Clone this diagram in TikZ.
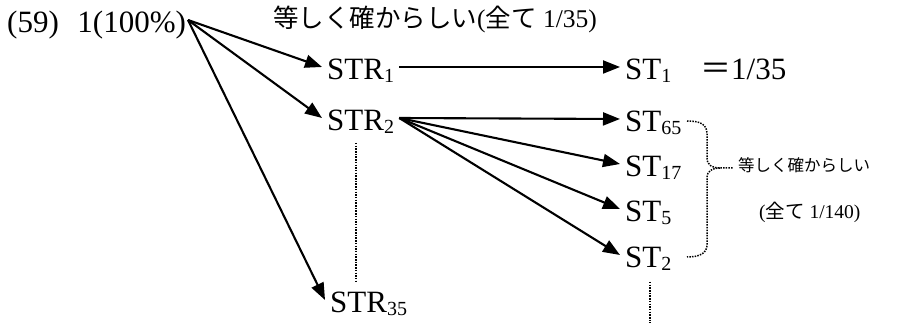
\documentclass[tikz,border=0pt]{standalone}
\usepackage{fontspec}
\setmainfont{Liberation Serif}
\newfontfamily\jp{Noto Sans CJK JP}
\usetikzlibrary{arrows.meta}
\newcommand\mysub[1]{\raisebox{-3pt}{\fontsize{20pt}{22pt}\selectfont #1}}
\tikzset{
  lbl/.style={font=\fontsize{31pt}{36pt}\selectfont, inner xsep=5pt, inner ysep=0pt,
              text height=25pt, text depth=0pt, anchor=west},
  jtxt/.style={inner sep=0pt, anchor=west, text height=0.88em, text depth=0.12em},
  arr/.style={line width=2.1pt, -{Triangle[length=17pt,width=13pt]}},
  dots/.style={line width=1.5pt, dash pattern=on 1.5pt off 1.2pt}
}
\begin{document}
\begin{tikzpicture}[x=1pt,y=-1pt]
\useasboundingbox (0,0) rectangle (903,323);
% nodes
\node[lbl, inner xsep=0pt] (srct) at (7,20.5) {(59)\hspace{0.6em}1(100\%)};
\coordinate (src) at (188,20);
\node[jtxt, font=\fontsize{25.5pt}{28pt}\selectfont] (top) at (273,24)
  {{\jp 等しく確からしい}({\jp 全て} 1/35)};
\node[lbl] (str1) at (322,67) {STR\mysub{1}};
\node[lbl] (str2) at (322,118) {STR\mysub{2}};
\node[lbl] (str35) at (325,300) {STR\mysub{35}};
\node[lbl] (st1) at (620,67) {ST\mysub{1}};
\node[lbl, inner xsep=0pt] (eq) at (700,67) {{\jp ＝}1/35};
\node[lbl] (st65) at (620,119) {ST\mysub{65}};
\node[lbl] (st17) at (620,164) {ST\mysub{17}};
\node[lbl] (st5) at (620,209) {ST\mysub{5}};
\node[lbl] (st2) at (620,255) {ST\mysub{2}};
\node[jtxt, font=\fontsize{16.5pt}{20pt}\selectfont] (eqp) at (738,168) {\jp 等しく確からしい};
\node[jtxt, font=\fontsize{19.5pt}{22pt}\selectfont] (all) at (759,215) {({\jp 全て} 1/140)};
% arrows
\draw[arr] (src) -- (str1.west);
\draw[arr] (src) -- (str2.west);
\draw[arr] (src) -- (str35.west);
\draw[arr] (str1.east) -- (st1.west);
\draw[arr] (str2.east) -- (st65.west);
\draw[arr] (str2.east) -- (st17.west);
\draw[arr] (str2.east) -- (st5.west);
\draw[arr] (str2.east) -- (st2.west);
% dotted lines
\coordinate (v1) at (356,143);
\coordinate (v2) at (356,282);
\draw[dots] (v1) -- (v2);
\coordinate (w1) at (650,282);
\coordinate (w2) at (650,323);
\draw[dots] (w1) -- (w2);
% brace
\coordinate (bt) at (733,168);
\draw[dots] (687,121) .. controls (700,121) and (707,124) .. (707,134) -- (707,158)
  .. controls (707,165) and (712,168) .. (720,168) -- (bt);
\draw[dots] (720,168) .. controls (712,168) and (707,171) .. (707,178) -- (707,245)
  .. controls (707,253) and (700,257) .. (687,257);
\end{tikzpicture}
\end{document}
